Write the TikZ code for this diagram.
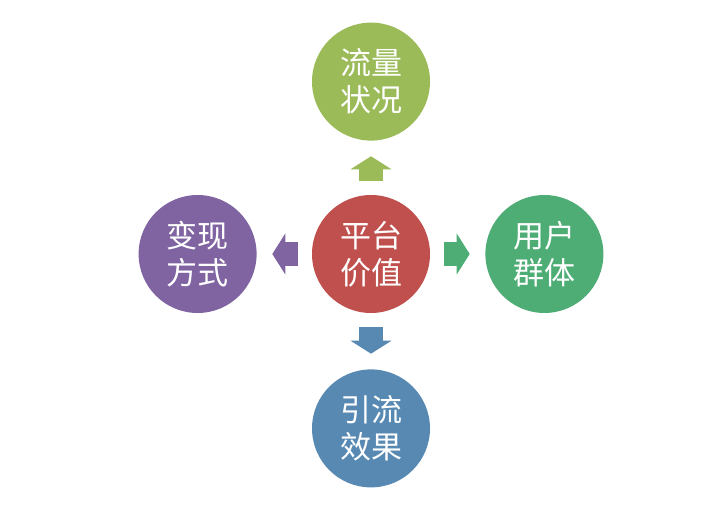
\documentclass[tikz,border=0pt]{standalone}
\usepackage{fontspec}
\setmainfont{Noto Sans CJK SC}
\usetikzlibrary{arrows.meta,positioning}

\definecolor{coreRed}{HTML}{C0504D}
\definecolor{leafGreen}{HTML}{9BBB59}
\definecolor{seaGreen}{HTML}{4DAD74}
\definecolor{plumPurple}{HTML}{8064A2}
\definecolor{steelBlue}{HTML}{5889B3}

\tikzset{
    bubble/.style={
        circle,
        minimum size=118pt,
        inner sep=0pt,
        text=white,
        align=center,
        font=\fontsize{31}{37}\selectfont
    },
    pointer/.style={
        line width=24pt,
        -{Triangle[length=13pt,width=41pt,line width=0pt]},
        shorten <=13.5pt,
        shorten >=15.5pt
    }
}

\begin{document}
\begin{tikzpicture}[x=1pt,y=1pt]
        \useasboundingbox (0,0) rectangle (720,509);

        \node[bubble, fill=coreRed] (core) at (371,255) {平台\\价值};

        \node[
            bubble,
            fill=leafGreen,
            above=54pt of core
        ] (traffic) {流量\\状况};

        \node[
            bubble,
            fill=seaGreen,
            right=55pt of core
        ] (users) {用户\\群体};

        \node[
            bubble,
            fill=steelBlue,
            below=56pt of core
        ] (effect) {引流\\效果};

        \node[
            bubble,
            fill=plumPurple,
            left=55pt of core
        ] (income) {变现\\方式};

        \draw[pointer, leafGreen] (core) -- (traffic);
        \draw[pointer, seaGreen] (core) -- (users);
        \draw[pointer, steelBlue] (core) -- (effect);
        \draw[pointer, plumPurple] (core) -- (income);
    \end{tikzpicture}
\end{document}
